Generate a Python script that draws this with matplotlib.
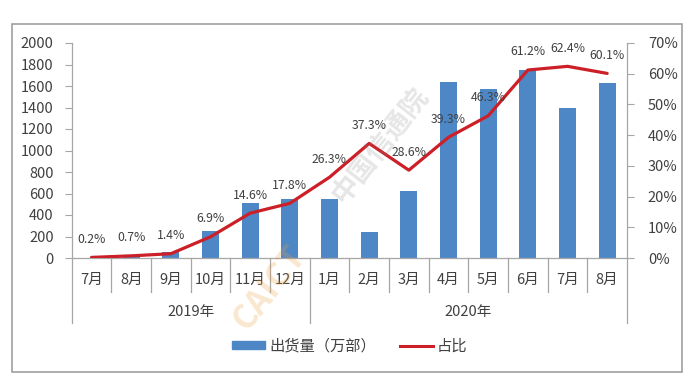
import matplotlib
matplotlib.use('Agg')
import matplotlib.pyplot as plt
from matplotlib.patches import Rectangle
from matplotlib.lines import Line2D
import matplotlib.transforms as mtransforms

plt.rcParams['font.family'] = ['Noto Sans CJK SC', 'DejaVu Sans']

# data
months = ['7月', '8月', '9月', '10月', '11月', '12月',
          '1月', '2月', '3月', '4月', '5月', '6月', '7月', '8月']
years = ['2019年', '2020年']
year_spans = [(0, 6), (6, 14)]
shipments = [2, 8, 53, 254, 514, 546, 552, 242, 626, 1640, 1569, 1749, 1398, 1625]
share = [0.2, 0.7, 1.4, 6.9, 14.6, 17.8, 26.3, 37.3, 28.6, 39.3, 46.3, 61.2, 62.4, 60.1]

BLUE = '#4E87C5'
RED = '#CC1F27'
GRID = '#A6A6A6'
TXT = '#404040'

W, H = 694, 382
fig = plt.figure(figsize=(W / 100, H / 100), dpi=100)

x0, x1 = 71.7, 627
y0, y1 = 258, 43
ax = fig.add_axes([x0 / W, 1 - y0 / H, (x1 - x0) / W, (y0 - y1) / H])
ax2 = ax.twinx()

n = len(months)
xs = list(range(n))
ax.bar(xs, shipments, width=0.43, color=BLUE, zorder=2)
ax.set_xlim(-0.5, n - 0.5)
ax.set_ylim(0, 2000)
ax.set_yticks(range(0, 2001, 200))
ax.set_xticks([])

ax2.plot(xs, [s / 100 for s in share], color=RED, lw=2.3, solid_capstyle='round',
         solid_joinstyle='round', zorder=3)
ax2.set_ylim(0, 0.7)
ax2.set_yticks([i / 10 for i in range(8)])
ax2.set_yticklabels([f'{i * 10}%' for i in range(8)])

for a in (ax, ax2):
    for s in a.spines.values():
        s.set_visible(False)
    a.tick_params(colors=GRID, labelcolor=TXT, labelsize=10.5, length=5, width=0.8)
ax.tick_params(axis='y', pad=8)
ax2.tick_params(axis='y', pad=10)
for a, side in ((ax2, 'right'), (ax, 'left'), (ax, 'bottom')):
    a.spines[side].set_visible(True)
    a.spines[side].set_color(GRID)
    a.spines[side].set_linewidth(0.9)

for i, s in enumerate(share):
    ax2.annotate(f'{s}%', (i, s / 100), xytext=(0, 13), textcoords='offset points',
                 ha='center', va='center', fontsize=8.8, color=TXT, zorder=4)

# two-level category axis
trans = mtransforms.blended_transform_factory(ax.transData, ax.transAxes)
ph = y0 - y1
month_bottom = -(291.7 - y0) / ph
year_bottom = -(323 - y0) / ph
big = {0, 6, 14}
for b in range(n + 1):
    yb = year_bottom if b in big else month_bottom
    ax.plot([b - 0.5, b - 0.5], [0, yb], transform=trans, color=GRID, lw=0.9,
            clip_on=False)
for i, m in enumerate(months):
    ax.text(i, -(280 - y0) / ph, m, transform=trans, ha='center', va='center',
            fontsize=10.5, color=TXT)
for yr, (a0, a1) in zip(years, year_spans):
    ax.text((a0 + a1 - 1) / 2, -(312 - y0) / ph, yr, transform=trans, ha='center',
            va='center', fontsize=10.5, color=TXT)

# legend
handles = [Rectangle((0, 0), 1, 1, color=BLUE),
           Line2D([0], [0], color=RED, lw=2.2)]
fig.legend(handles, ['出货量（万部）', '占比'], loc='center',
           bbox_to_anchor=(350 / W, 1 - 346 / H), ncol=2, frameon=False,
           fontsize=11, handlelength=2.15, handleheight=0.45, columnspacing=1.6,
           handletextpad=0.25, labelcolor=TXT)

# watermark
fig.text(270 / W, 1 - 288 / H, 'CAICT', rotation=52, ha='center', va='center',
         fontsize=24, fontweight='bold', style='italic', color='#E8A040', alpha=0.25)
fig.text(380 / W, 1 - 145 / H, '中国信通院', rotation=52, ha='center', va='center',
         fontsize=20, fontweight='bold', color='#808080', alpha=0.2)

# outer frame
fig.patches.append(Rectangle((12 / W, 1 - 372 / H), (682 - 12) / W, (372 - 24) / H,
                             transform=fig.transFigure, fill=False, edgecolor='#A0A0A0',
                             lw=1.2))

fig.savefig('out.png', dpi=100)
